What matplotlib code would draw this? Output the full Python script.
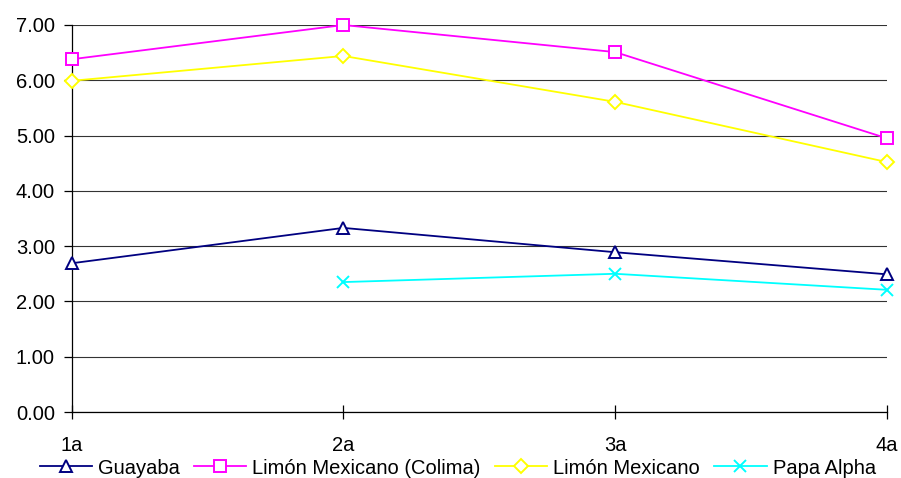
import matplotlib.pyplot as plt
import numpy as np

plt.rcParams['font.family'] = ['Liberation Sans', 'DejaVu Sans']

categories = ['1a', '2a', '3a', '4a']
guayaba = [2.69, 3.33, 2.89, 2.49]
limon_colima = [6.38, 7.00, 6.51, 4.95]
limon_mexicano = [5.99, 6.44, 5.61, 4.52]
papa_alpha = [np.nan, 2.35, 2.50, 2.21]

series = [
    ('Guayaba', guayaba, '#000080', '^'),
    ('Limón Mexicano (Colima)', limon_colima, '#FF00FF', 's'),
    ('Limón Mexicano', limon_mexicano, '#FFFF00', 'D'),
    ('Papa Alpha', papa_alpha, '#00FFFF', 'x'),
]

fig = plt.figure(figsize=(9.01, 4.78), dpi=100)
ax = fig.add_axes([71.5 / 901, 66 / 478, (887 - 71.5) / 901, (412 - 25) / 478])

x = np.arange(len(categories))
for name, vals, color, marker in series:
    ms = 7 if marker == 'D' else 8
    ax.plot(x, vals, color=color, lw=1.3, marker=marker, ms=ms,
            mfc='white' if marker != 'x' else color, mec=color, mew=1.4,
            label=name, clip_on=False, zorder=3)

ax.set_xlim(0, 3)
ax.set_ylim(0, 7)
ax.set_yticks(np.arange(0, 8, 1))
ax.set_yticklabels([f'{v:.2f}' for v in np.arange(0, 8, 1)])
ax.set_xticks(x)
ax.set_xticklabels(categories)
ax.yaxis.grid(True, color='#333333', lw=0.8)
ax.set_axisbelow(True)
for s in ['top', 'right']:
    ax.spines[s].set_visible(False)
ax.spines['left'].set_linewidth(0.9)
ax.spines['bottom'].set_linewidth(0.9)
ax.tick_params(axis='y', direction='out', length=6, width=0.9, labelsize=14.5, pad=6)
ax.tick_params(axis='x', direction='inout', length=10, width=0.9, labelsize=14.5, pad=12)

fig.legend(loc='center', bbox_to_anchor=(0.508, 10 / 478), ncol=4, frameon=False,
           fontsize=14.5, handlelength=2.6, handletextpad=0.3, columnspacing=0.7,
           borderaxespad=0)

fig.savefig('out.png', dpi=100)
